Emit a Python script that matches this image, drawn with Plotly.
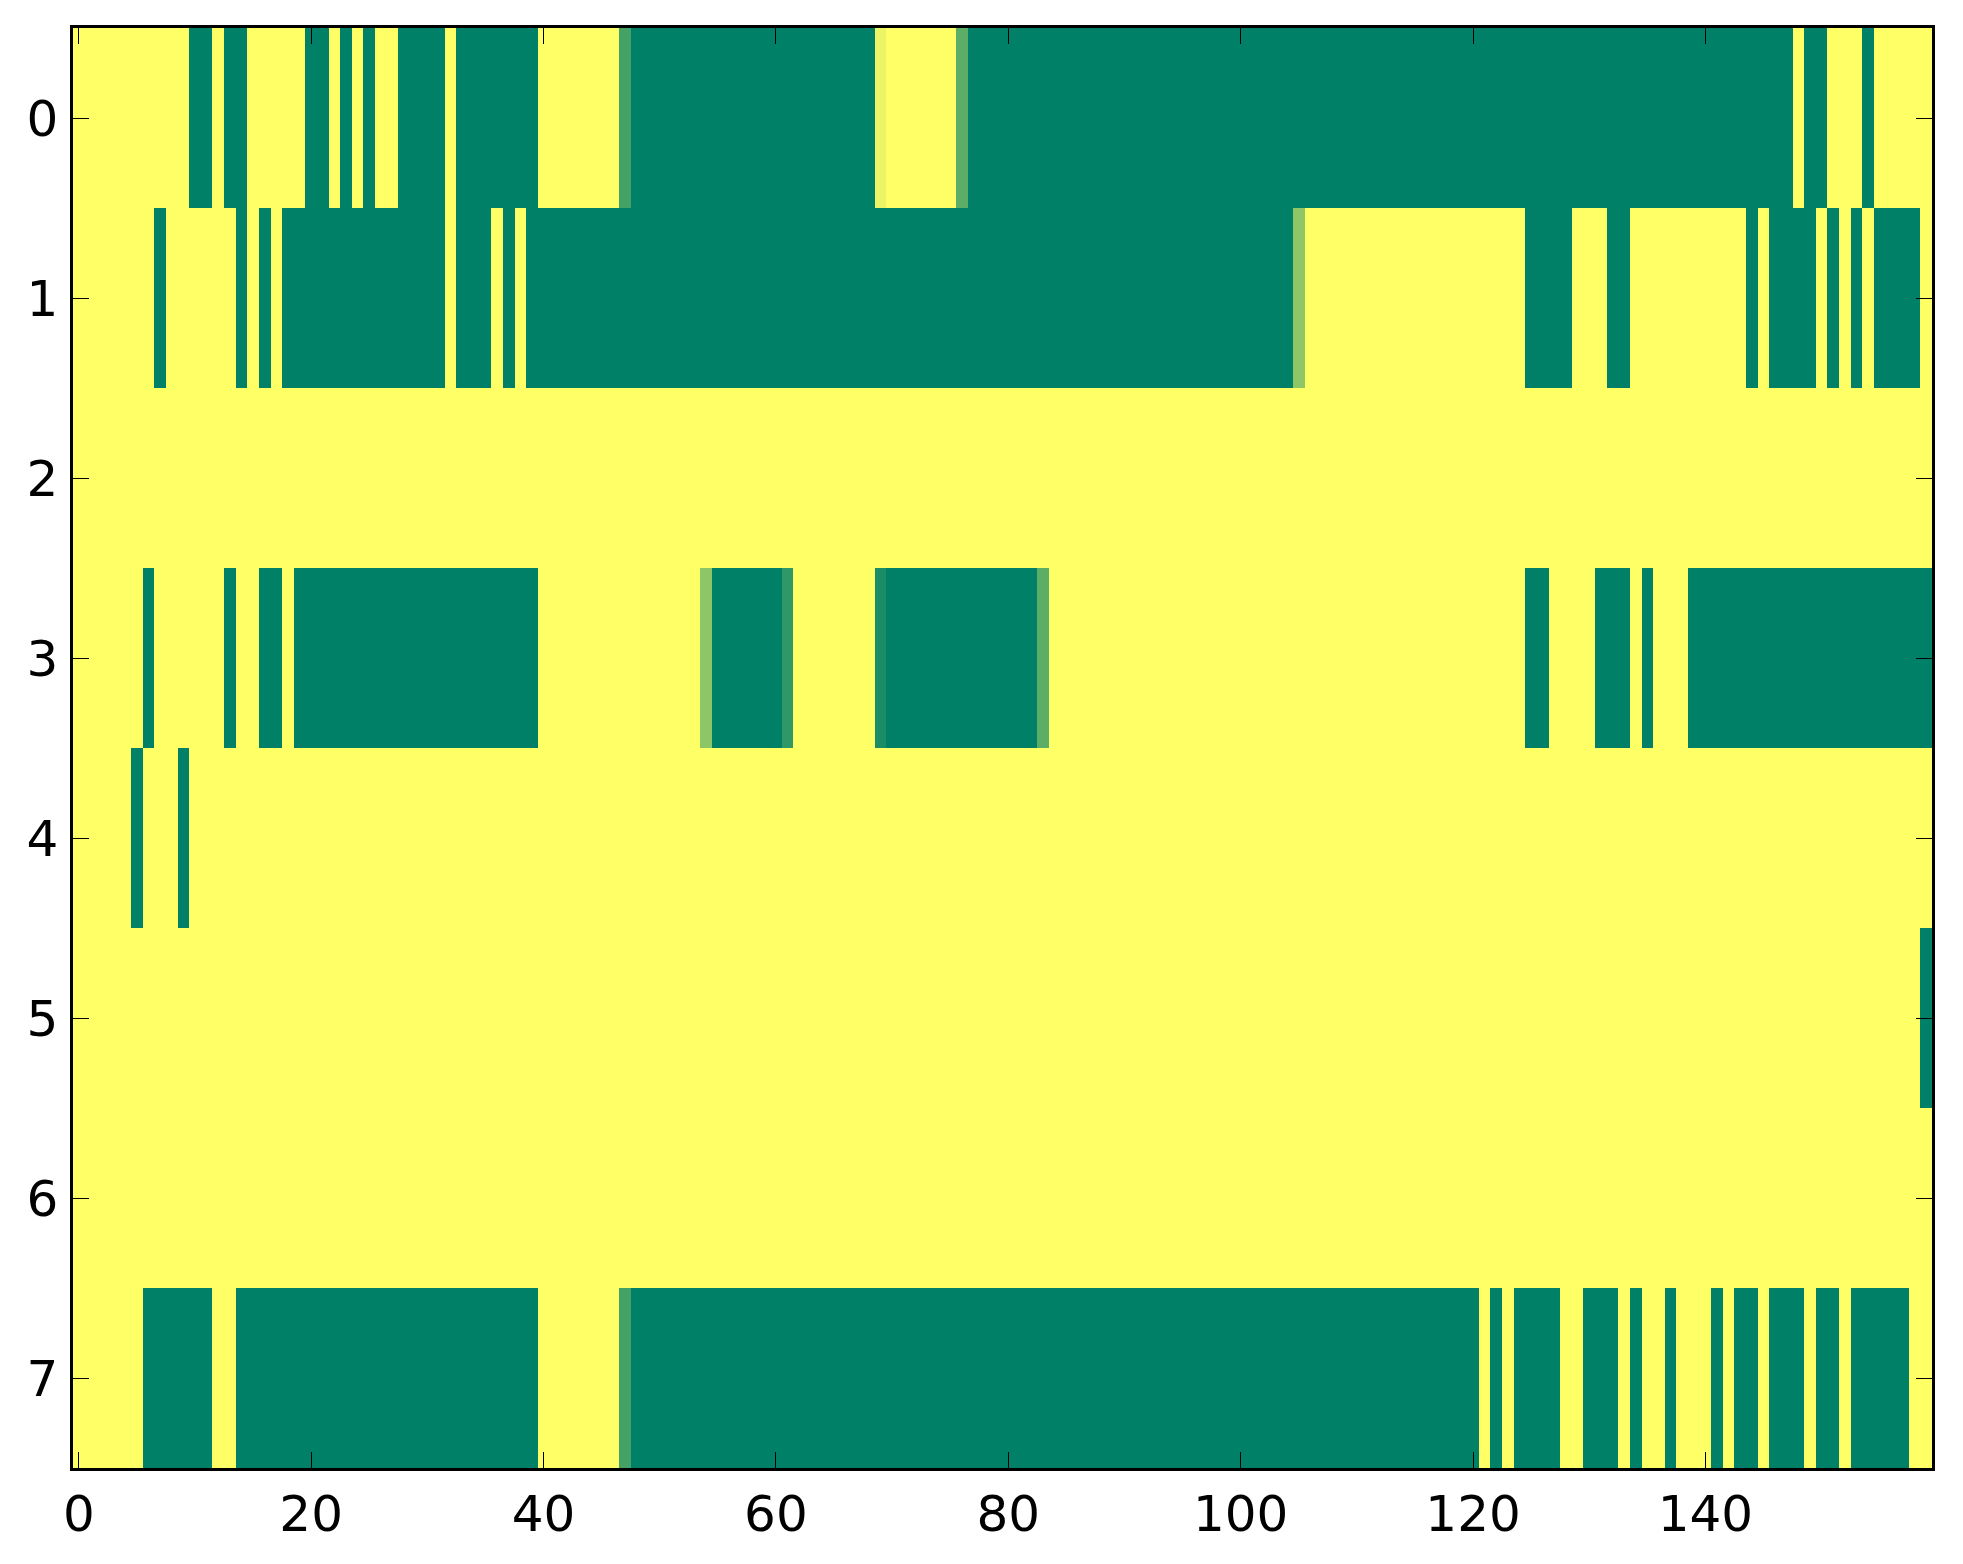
import plotly.graph_objects as go

# one string per row, 160 columns, grouped by tens
# '1' = yellow, '0' = green, letters = in-between cells
row0 = "1111111111 0010011111 0010101100 0010000000 1111111a00 0000000000 000000000b 111111c000 0000000000 0000000000 0000000000 0000000000 0000000000 0000000000 0000000010 0111011111"
row1 = "1111111011 1111010100 0000000000 0010001010 0000000000 0000000000 0000000000 0000000000 0000000000 0000000000 00000d1111 1111111111 1111100001 1100111111 1111010000 1010100001"
row2 = "1111111111 1111111111 1111111111 1111111111 1111111111 1111111111 1111111111 1111111111 1111111111 1111111111 1111111111 1111111111 1111111111 1111111111 1111111111 1111111111"
row3 = "1111110111 1110110010 0000000000 0000000000 1111111111 1111e00000 0f1111111g 0000000000 000c111111 1111111111 1111111111 1111111111 1111100111 1000101110 0000000000 0000000000"
row4 = "1111101110 1111111111 1111111111 1111111111 1111111111 1111111111 1111111111 1111111111 1111111111 1111111111 1111111111 1111111111 1111111111 1111111111 1111111111 1111111111"
row5 = "1111111111 1111111111 1111111111 1111111111 1111111111 1111111111 1111111111 1111111111 1111111111 1111111111 1111111111 1111111111 1111111111 1111111111 1111111111 1111111110"
row6 = "1111111111 1111111111 1111111111 1111111111 1111111111 1111111111 1111111111 1111111111 1111111111 1111111111 1111111111 1111111111 1111111111 1111111111 1111111111 1111111111"
row7 = "1111110000 0011000000 0000000000 0000000000 1111111a00 0000000000 0000000000 0000000000 0000000000 0000000000 0000000000 0000000000 0101000011 0001011011 1010010001 0010000011"

cell_values = {"0": 0.0, "1": 1.0, "a": 0.27, "b": 0.92, "c": 0.36,
               "d": 0.56, "e": 0.55, "f": 0.19, "g": 0.10}

rows = [row0, row1, row2, row3, row4, row5, row6, row7]
x_ticks = [0, 20, 40, 60, 80, 100, 120, 140]
y_ticks = [0, 1, 2, 3, 4, 5, 6, 7]

z = [[cell_values[c] for c in r.replace(" ", "")] for r in rows]

# matplotlib "summer" colormap
summer = [[0.0, "rgb(0,128,102)"], [1.0, "rgb(255,255,102)"]]

fig = go.Figure(go.Heatmap(
    z=z,
    colorscale=summer,
    zmin=0, zmax=1,
    showscale=False,
))

axis_style = dict(
    showline=True, linecolor="black", linewidth=2.5, mirror="ticks",
    ticks="inside", ticklen=16, tickwidth=1.3, tickcolor="black",
    showgrid=False, zeroline=False,
)

fig.update_xaxes(range=[-0.5, 159.5], tickvals=x_ticks, ticklabelstandoff=0, **axis_style)
fig.update_yaxes(range=[7.5, -0.5], tickvals=y_ticks, ticklabelstandoff=2, **axis_style)

# page body has an 8px margin, so the figure is shrunk by that much
fig.update_layout(
    width=1955, height=1556,
    margin=dict(l=65, r=31, t=20, b=96),
    paper_bgcolor="white", plot_bgcolor="white",
    font=dict(family="DejaVu Sans", size=50, color="black"),
)

fig.write_html("out.html")
